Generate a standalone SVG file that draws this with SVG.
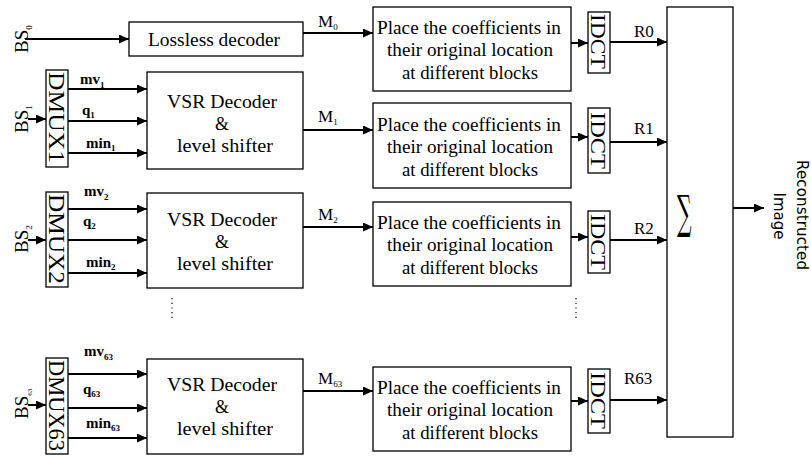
<svg xmlns="http://www.w3.org/2000/svg" width="811" height="458" viewBox="0 0 811 458">
<defs>
<marker id="ah" markerUnits="userSpaceOnUse" markerWidth="10" markerHeight="9" refX="10" refY="4.5" orient="auto">
<path d="M0,0 L10,4.5 L0,9 z" fill="#000"/>
</marker>
</defs>
<style>
.box{fill:#fff;stroke:#000;stroke-width:1.3}
.ln{stroke:#000;stroke-width:2;fill:none;marker-end:url(#ah)}
.t{font-family:"Liberation Serif","Times New Roman",serif;fill:#000}
.c{text-anchor:middle}
.bt{font-size:18px}
.lb{font-family:"Liberation Serif","Times New Roman",serif;font-size:15px;font-weight:bold}
.sb{font-size:9px}
.dot{stroke:#000;stroke-width:1.2;stroke-dasharray:1.2,3.5}
</style>
<rect width="811" height="458" fill="#fff"/>

<g id="connectors">
<line class="ln" x1="25" y1="39" x2="129" y2="39"/>
<line class="ln" x1="28" y1="119" x2="46" y2="119"/>
<line class="ln" x1="28" y1="240" x2="46" y2="240"/>
<line class="ln" x1="28" y1="405" x2="46" y2="405"/>
<line class="ln" x1="68" y1="89" x2="147" y2="89"/>
<line class="ln" x1="68" y1="121" x2="147" y2="121"/>
<line class="ln" x1="68" y1="153" x2="147" y2="153"/>
<line class="ln" x1="68" y1="209" x2="147" y2="209"/>
<line class="ln" x1="68" y1="240" x2="147" y2="240"/>
<line class="ln" x1="68" y1="273" x2="147" y2="273"/>
<line class="ln" x1="68" y1="374" x2="147" y2="374"/>
<line class="ln" x1="68" y1="408" x2="147" y2="408"/>
<line class="ln" x1="68" y1="438" x2="147" y2="438"/>
<line class="ln" x1="303" y1="33" x2="373" y2="33"/>
<line class="ln" x1="303" y1="130" x2="373" y2="130"/>
<line class="ln" x1="303" y1="227" x2="373" y2="227"/>
<line class="ln" x1="303" y1="391" x2="373" y2="391"/>
<line class="ln" x1="571" y1="43" x2="588" y2="43"/>
<line class="ln" x1="571" y1="137" x2="588" y2="137"/>
<line class="ln" x1="571" y1="237" x2="588" y2="237"/>
<line class="ln" x1="571" y1="401" x2="588" y2="401"/>
<line class="ln" x1="610" y1="42" x2="667" y2="42"/>
<line class="ln" x1="610" y1="142" x2="667" y2="142"/>
<line class="ln" x1="610" y1="240" x2="667" y2="240"/>
<line class="ln" x1="610" y1="400" x2="667" y2="400"/>
<line class="ln" x1="733" y1="208" x2="764" y2="208"/>
<line class="dot" x1="172" y1="298" x2="172" y2="320"/>
<line class="dot" x1="576" y1="298" x2="576" y2="320"/>
</g>

<g id="labels">
<text class="t" font-size="19" transform="translate(28,53) rotate(-90)">BS<tspan class="sb" dy="4">0</tspan></text>
<text class="t" font-size="19" transform="translate(28,133) rotate(-90)">BS<tspan class="sb" dy="4">1</tspan></text>
<text class="t" font-size="19" transform="translate(28,253) rotate(-90)">BS<tspan class="sb" dy="4">2</tspan></text>
<text class="t" font-size="19" transform="translate(28,419) rotate(-90)">BS<tspan font-size="7" dy="4">63</tspan></text>
<text class="lb" x="80" y="84">mv<tspan class="sb" dy="4">1</tspan></text>
<text class="lb" x="82" y="115">q<tspan class="sb" dy="3">1</tspan></text>
<text class="lb" x="86" y="148">min<tspan class="sb" dy="3">1</tspan></text>
<text class="lb" x="84" y="196">mv<tspan class="sb" dy="4">2</tspan></text>
<text class="lb" x="83" y="226">q<tspan class="sb" dy="3">2</tspan></text>
<text class="lb" x="86" y="267">min<tspan class="sb" dy="3">2</tspan></text>
<text class="lb" x="84" y="356">mv<tspan class="sb" dy="4">63</tspan></text>
<text class="lb" x="83" y="394">q<tspan class="sb" dy="3">63</tspan></text>
<text class="lb" x="86" y="428">min<tspan class="sb" dy="3">63</tspan></text>
<text class="t" font-size="17" x="318" y="27">M<tspan class="sb" dy="3">0</tspan></text>
<text class="t" font-size="17" x="318" y="122">M<tspan class="sb" dy="3">1</tspan></text>
<text class="t" font-size="17" x="318" y="220">M<tspan class="sb" dy="3">2</tspan></text>
<text class="t" font-size="17" x="318" y="384">M<tspan class="sb" dy="3">63</tspan></text>
<text class="t" font-size="17" x="634" y="37">R0</text>
<text class="t" font-size="17" x="634" y="134">R1</text>
<text class="t" font-size="17" x="634" y="234">R2</text>
<text class="t" font-size="17" x="624" y="384">R63</text>
<text font-family="'DejaVu Sans','Liberation Sans',sans-serif" font-size="15" text-anchor="middle" textLength="110" transform="translate(797,215) rotate(90)">Reconstructed</text>
<text font-family="'DejaVu Sans','Liberation Sans',sans-serif" font-size="15" text-anchor="middle" transform="translate(774,216) rotate(90)">Image</text>
</g>

<g id="lossless">
<rect class="box" x="129" y="22" width="174" height="34"/>
<text class="t bt" x="148" y="46" textLength="132" lengthAdjust="spacingAndGlyphs">Lossless decoder</text>
</g>

<g id="dmux1"><rect class="box" x="46" y="70" width="22" height="97"/>
<text class="t" font-size="23" textLength="91" lengthAdjust="spacingAndGlyphs" transform="translate(49,72) rotate(90)">DMUX1</text></g>
<g id="dmux2"><rect class="box" x="46" y="192" width="22" height="95"/>
<text class="t" font-size="23" textLength="90" lengthAdjust="spacingAndGlyphs" transform="translate(49,194) rotate(90)">DMUX2</text></g>
<g id="dmux63"><rect class="box" x="46" y="358" width="22" height="96"/>
<text class="t" font-size="23" textLength="91" lengthAdjust="spacingAndGlyphs" transform="translate(49,360) rotate(90)">DMUX63</text></g>

<g id="vsr1"><rect class="box" x="147" y="72" width="156" height="97"/>
<text class="t bt" x="167" y="108" textLength="110" lengthAdjust="spacingAndGlyphs">VSR Decoder</text><text class="t bt c" x="222" y="130">&amp;</text><text class="t bt" x="177" y="152" textLength="96" lengthAdjust="spacingAndGlyphs">level shifter</text></g>
<g id="vsr2"><rect class="box" x="147" y="193" width="156" height="95"/>
<text class="t bt" x="167" y="226" textLength="110" lengthAdjust="spacingAndGlyphs">VSR Decoder</text><text class="t bt c" x="222" y="248">&amp;</text><text class="t bt" x="177" y="270" textLength="96" lengthAdjust="spacingAndGlyphs">level shifter</text></g>
<g id="vsr63"><rect class="box" x="147" y="359" width="156" height="95"/>
<text class="t bt" x="167" y="391" textLength="110" lengthAdjust="spacingAndGlyphs">VSR Decoder</text><text class="t bt c" x="222" y="413">&amp;</text><text class="t bt" x="177" y="435" textLength="96" lengthAdjust="spacingAndGlyphs">level shifter</text></g>

<g id="place0"><rect class="box" x="373" y="7" width="198" height="84"/>
<text class="t bt" x="377" y="34" textLength="184" lengthAdjust="spacingAndGlyphs">Place the coefficients in</text><text class="t bt" x="387" y="56" textLength="166" lengthAdjust="spacingAndGlyphs">their original location</text><text class="t bt" x="402" y="79" textLength="136" lengthAdjust="spacingAndGlyphs">at different blocks</text></g>
<g id="place1"><rect class="box" x="373" y="103" width="198" height="85"/>
<text class="t bt" x="377" y="131" textLength="184" lengthAdjust="spacingAndGlyphs">Place the coefficients in</text><text class="t bt" x="387" y="153" textLength="166" lengthAdjust="spacingAndGlyphs">their original location</text><text class="t bt" x="402" y="176" textLength="136" lengthAdjust="spacingAndGlyphs">at different blocks</text></g>
<g id="place2"><rect class="box" x="373" y="202" width="198" height="84"/>
<text class="t bt" x="377" y="229" textLength="184" lengthAdjust="spacingAndGlyphs">Place the coefficients in</text><text class="t bt" x="387" y="251" textLength="166" lengthAdjust="spacingAndGlyphs">their original location</text><text class="t bt" x="402" y="274" textLength="136" lengthAdjust="spacingAndGlyphs">at different blocks</text></g>
<g id="place63"><rect class="box" x="373" y="367" width="198" height="84"/>
<text class="t bt" x="377" y="394" textLength="184" lengthAdjust="spacingAndGlyphs">Place the coefficients in</text><text class="t bt" x="387" y="416" textLength="166" lengthAdjust="spacingAndGlyphs">their original location</text><text class="t bt" x="402" y="439" textLength="136" lengthAdjust="spacingAndGlyphs">at different blocks</text></g>

<g id="idct0"><rect class="box" x="588" y="12" width="22" height="61"/>
<text class="t" font-size="22" textLength="55" lengthAdjust="spacingAndGlyphs" transform="translate(591,14) rotate(90)">IDCT</text></g>
<g id="idct1"><rect class="box" x="588" y="108" width="22" height="65"/>
<text class="t" font-size="22" textLength="57" lengthAdjust="spacingAndGlyphs" transform="translate(591,112) rotate(90)">IDCT</text></g>
<g id="idct2"><rect class="box" x="588" y="211" width="22" height="62"/>
<text class="t" font-size="22" textLength="56" lengthAdjust="spacingAndGlyphs" transform="translate(591,214) rotate(90)">IDCT</text></g>
<g id="idct63"><rect class="box" x="588" y="369" width="22" height="64"/>
<text class="t" font-size="22" textLength="57" lengthAdjust="spacingAndGlyphs" transform="translate(591,372) rotate(90)">IDCT</text></g>

<g id="sum"><rect class="box" x="667" y="7" width="66" height="430"/>
<text font-family="'DejaVu Serif',serif" font-size="34" transform="translate(677,228) scale(0.6,1.35)">∑</text></g>
</svg>
